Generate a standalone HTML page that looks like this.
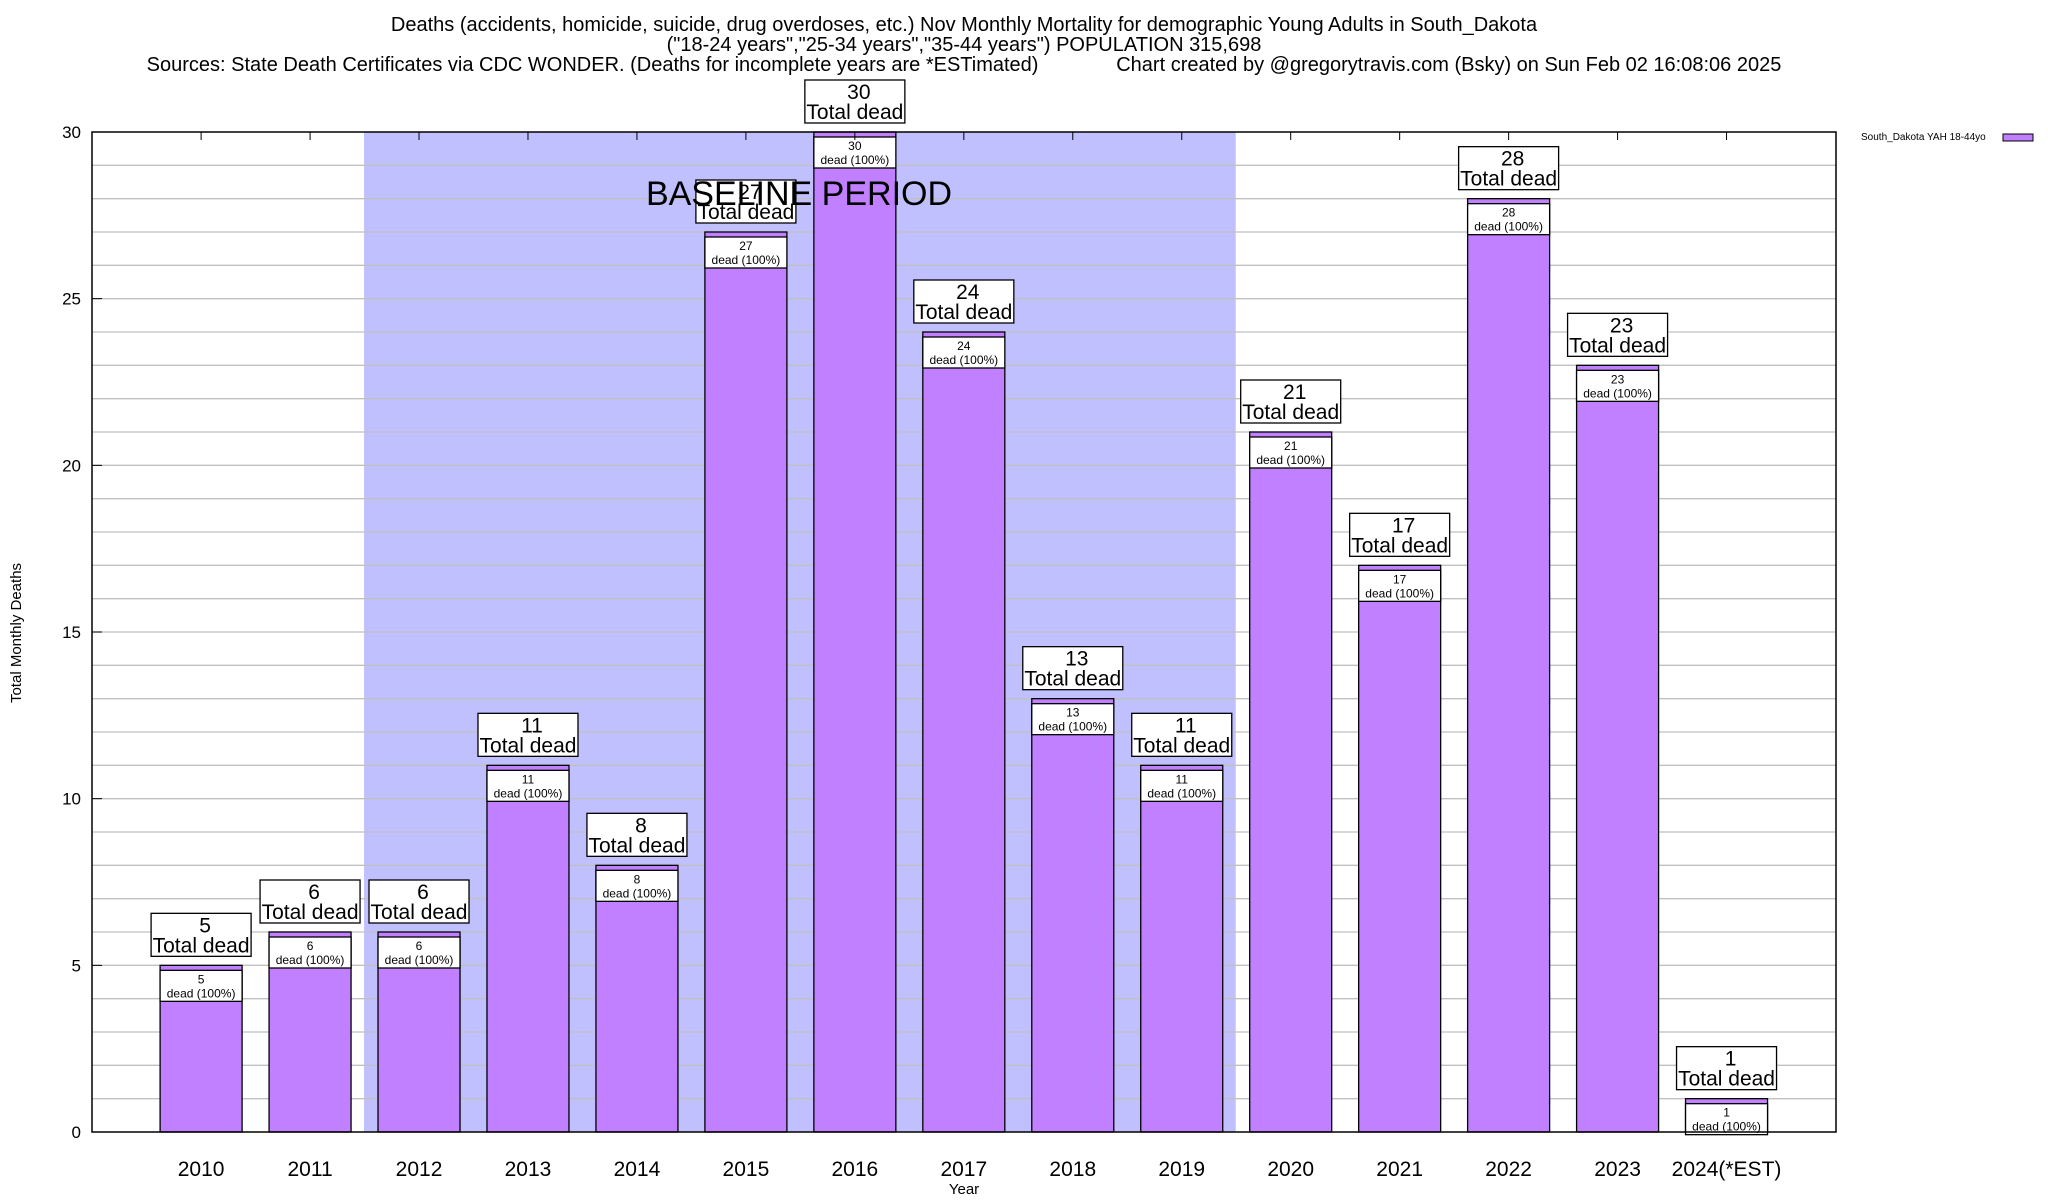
<!DOCTYPE html>
<html><head><meta charset="utf-8"><style>
html,body{margin:0;padding:0;background:#fff;}
svg{display:block;font-family:"Liberation Sans",sans-serif;}
</style></head><body>
<svg id="chart" width="2048" height="1200" viewBox="0 0 2048 1200" xmlns="http://www.w3.org/2000/svg">
<g font-size="20" text-anchor="middle">
<text x="964" y="31">Deaths (accidents, homicide, suicide, drug overdoses, etc.) Nov Monthly Mortality for demographic Young Adults in South_Dakota</text>
<text x="964" y="51">("18-24 years","25-34 years","35-44 years") POPULATION 315,698</text>
<text x="964" y="71" xml:space="preserve">Sources: State Death Certificates via CDC WONDER. (Deaths for incomplete years are *ESTimated)              Chart created by @gregorytravis.com (Bsky) on Sun Feb 02 16:08:06 2025</text>
</g>
<g id="plot"></g>
</svg>
<script>
const categories=["2010","2011","2012","2013","2014","2015","2016","2017","2018","2019","2020","2021","2022","2023","2024(*EST)"];
const deaths=[5,6,6,11,8,27,30,24,13,11,21,17,28,23,1];
const yTicks=[0,5,10,15,20,25,30];
const baselineStart=2, baselineEnd=9;

const NS="http://www.w3.org/2000/svg";
const L=92,R=1836,T=132,B=1132,yMax=30;
const c0=201.1, step=108.96, bw=82;
const xC=i=>c0+i*step;
const y=v=>B-(v/yMax)*(B-T);
const g=document.getElementById('plot');
function el(tag,attrs,text){const e=document.createElementNS(NS,tag);for(const k in attrs)e.setAttribute(k,attrs[k]);if(text!==undefined)e.textContent=text;g.appendChild(e);return e;}

let e=el('rect',{x:xC(baselineStart)-step/2-0.5,y:T,width:(baselineEnd-baselineStart+1)*step,height:B-T,fill:'#c0c0ff'});


for(let v=1;v<yMax;v++){
  e=el('line',{x1:L,x2:R,y1:y(v),y2:y(v),stroke:'#c0c0c0','stroke-width':1.3});
  
  
}
yTicks.forEach(v=>{
  let t=el('text',{x:81,y:y(v)+6,'font-size':17,'text-anchor':'end'},String(v));
  
  
  let m=el('line',{x1:L,x2:L+10,y1:y(v),y2:y(v),stroke:'#000'});
  
  
});
deaths.forEach((v,i)=>{
  const cx=xC(i), top=y(v);
  let b=el('rect',{x:cx-bw/2,y:top,width:bw,height:B-top,fill:'#c080ff',stroke:'#000','stroke-width':1.3});
  
  
  let ib=el('rect',{x:cx-bw/2,y:top+5,width:bw,height:31,fill:'#fff',stroke:'#000','stroke-width':1.3});
  
  
  let t1=el('text',{x:cx,y:top+18,'font-size':12,'text-anchor':'middle'},String(v));
  
  
  let t2=el('text',{x:cx,y:top+32,'font-size':12,'text-anchor':'middle'},'dead (100%)');
  
  
  let ob=el('rect',{x:cx-50,y:top-52,width:100,height:43,fill:'#fff',stroke:'#000','stroke-width':1.3});
  
  
  let t3=el('text',{x:cx+4,y:top-33,'font-size':21,'text-anchor':'middle'},String(v));
  
  
  let t4=el('text',{x:cx,y:top-13,'font-size':21,'text-anchor':'middle'},'Total dead');
  
  
  let xl=el('text',{x:cx,y:1176,'font-size':21,'text-anchor':'middle'},categories[i]);
  
  
  let tm=el('line',{x1:cx,x2:cx,y1:T,y2:T+8,stroke:'#000'});
  
  
});
e=el('text',{x:799,y:205,'font-size':34,'text-anchor':'middle'},'BASELINE PERIOD');


e=el('rect',{x:L,y:T,width:R-L,height:B-T,fill:'none',stroke:'#000','stroke-width':1.5});


e=el('text',{x:964,y:1194,'font-size':15,'text-anchor':'middle'},'Year');


e=el('text',{x:21,y:633,'font-size':15,'text-anchor':'middle',transform:'rotate(-90 21 633)'},'Total Monthly Deaths');


e=el('text',{x:1861,y:140,'font-size':10},'South_Dakota YAH 18-44yo');


e=el('rect',{x:2003,y:134,width:30,height:7,fill:'#c080ff',stroke:'#000'});


</script>
</body></html>
